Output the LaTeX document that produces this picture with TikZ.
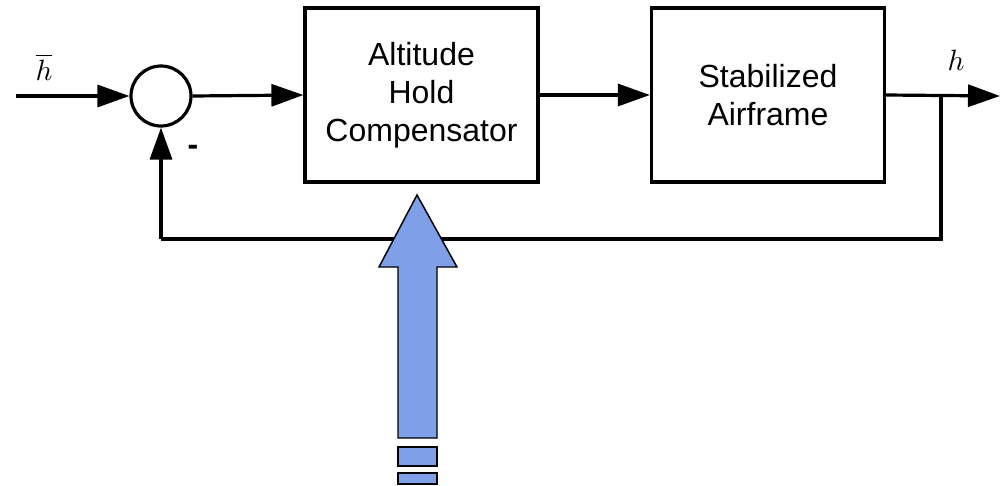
\documentclass[tikz,border=0pt]{standalone}
\usepackage{fontspec}
\setsansfont{Liberation Sans}
\usetikzlibrary{arrows.meta}
\definecolor{cmdblue}{RGB}{127,159,233}
\newcommand{\siglabel}[1]{\scalebox{2.2}{$#1$}}
\begin{document}
\begin{tikzpicture}[x=0.75pt,y=-0.75pt,
  wire/.style={line width=2.4pt,-{Triangle[length=24pt,width=16.5pt]}},
  plain/.style={line width=2.4pt},
  block/.style={draw,line width=2.4pt,minimum width=174.75pt,minimum height=130.5pt,
    inner sep=0pt,align=center,font=\sffamily\fontsize{24}{28.5}\selectfont},
  sumjunc/.style={draw,circle,line width=2.4pt,minimum size=45pt,inner sep=0pt},
  sig/.style={inner sep=0pt},
  cmdarrow/.style={draw=black,line width=1.1pt,fill=cmdblue,line join=miter}]
\useasboundingbox (0,0) rectangle (1001,486);

% blocks and summing junction
\node[sumjunc] (sum) at (161,96) {};
\node[block] (comp) at (421.5,95) {Altitude\\Hold\\Compensator};
\node[block] (plant) at (768,95) {Stabilized\\Airframe};

% signal ends
\coordinate (in) at (16,96);
\coordinate (out) at (1000,96);
\coordinate (tap) at (941,96);
\coordinate (fbr) at (941,239);
\coordinate (fbl) at (161,239);

% forward path
\draw[wire] (in) -- (sum.west);
\draw[wire] (sum.east) -- (comp.west);
\draw[wire] (comp.east) -- (plant.west);
\draw[wire] (plant.east) -- (out);

% feedback path
\draw[plain,line join=miter] (tap) -- (fbr) -- (fbl);
\draw[wire] (fbl) -- (sum.south);

% labels
\node[sig] (hbar) at (44,67) {\siglabel{\overline{h}}};
\node[sig] (hout) at (956,60) {\siglabel{h}};
\node[font=\sffamily\bfseries\fontsize{24}{28}\selectfont,inner sep=0pt] (minus) at (193,150) {-};

% command input arrow
\draw[cmdarrow] (417,195) -- (457,267) -- (437,267) -- (437,438) -- (398,438)
  -- (398,267) -- (379,267) -- cycle;
\draw[cmdarrow] (398,447) rectangle (437,466);
\draw[cmdarrow] (398,473) rectangle (437,484);
\end{tikzpicture}
\end{document}
